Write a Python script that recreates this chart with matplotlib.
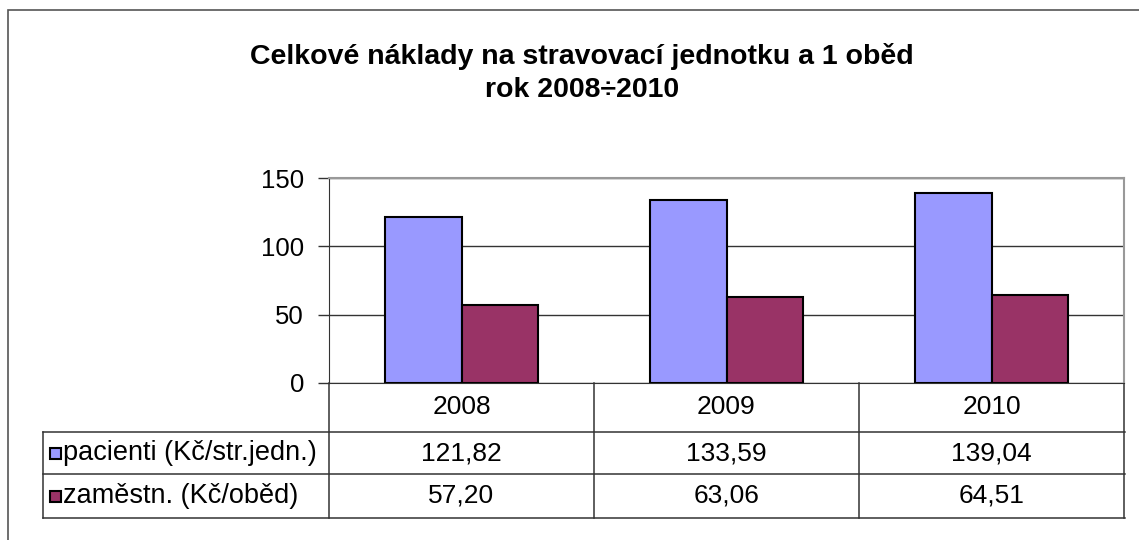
import matplotlib
matplotlib.use("Agg")
import matplotlib.pyplot as plt
from matplotlib.patches import Rectangle
from matplotlib.transforms import blended_transform_factory

plt.rcParams['font.family'] = ['Liberation Sans', 'DejaVu Sans']

years = ['2008', '2009', '2010']
pacienti = [121.82, 133.59, 139.04]
zamestn = [57.20, 63.06, 64.51]
series_labels = ['pacienti (Kč/str.jedn.)', 'zaměstn. (Kč/oběd)']
pacienti_txt = ['121,82', '133,59', '139,04']
zamestn_txt = ['57,20', '63,06', '64,51']
yticks = [0, 50, 100, 150]
title = 'Celkové náklady na stravovací jednotku a 1 oběd\nrok 2008÷2010'

c_blue = '#9999FF'
c_maroon = '#993366'

W, H = 1139, 540
fig = plt.figure(figsize=(W / 100, H / 100), dpi=100)

def fx(px):
    return px / W

def fy(py):
    return 1 - py / H

FS = 19

# outer chart border (left + top visible)
fig.patches.append(Rectangle((fx(8), fy(560)), fx(1160) - fx(8), fy(10) - fy(560),
                             transform=fig.transFigure, fill=False,
                             edgecolor='#555555', linewidth=1.2))

L, R, T, B = 329, 1124, 178, 383
ax = fig.add_axes([fx(L), fy(B), fx(R) - fx(L), fy(T) - fy(B)])

x = list(range(len(years)))
bw = 0.29
ax.bar([i - bw / 2 for i in x], pacienti, width=bw, color=c_blue,
       edgecolor='black', linewidth=1.5, zorder=3)
ax.bar([i + bw / 2 for i in x], zamestn, width=bw, color=c_maroon,
       edgecolor='black', linewidth=1.5, zorder=3)

ax.set_xlim(-0.5, len(years) - 0.5)
ax.set_ylim(0, 150)
ax.set_yticks(yticks)
ax.set_yticklabels([str(v) for v in yticks], fontsize=18.5)
ax.tick_params(axis='y', length=8, width=1, color='#333333', pad=10)
ax.set_xticks([])
ax.yaxis.grid(True, color='#333333', linewidth=1, zorder=0)
for s in ['top', 'right']:
    ax.spines[s].set_color('#999999')
    ax.spines[s].set_linewidth(1.5)
ax.spines['left'].set_color('#333333')
ax.spines['bottom'].set_color('#333333')

fig.text(fx(582), fy(73), title, ha='center', va='center', fontsize=20.5,
         fontweight='bold', linespacing=1.35, multialignment='center')

# data table below axes
bt = blended_transform_factory(ax.transData, fig.transFigure)
ft = fig.transFigure
row_y = [383, 432, 474, 518]
line_kw = dict(color='#333333', linewidth=1.1, clip_on=False)
edges = [i - 0.5 for i in range(len(years) + 1)]
for e in edges:
    ax.plot([e, e], [fy(row_y[0]), fy(row_y[-1])], transform=bt, **line_kw)
tab_left = 43
for yy in row_y[1:]:
    fig.add_artist(plt.Line2D([fx(tab_left), fx(R + 1)], [fy(yy), fy(yy)],
                              transform=ft, color='#333333', linewidth=1.1))
fig.add_artist(plt.Line2D([fx(tab_left), fx(tab_left)], [fy(row_y[1]), fy(row_y[-1])],
                          transform=ft, color='#333333', linewidth=1.1))

def mid(a, b):
    return fy((a + b) / 2)

for i, yr in enumerate(years):
    ax.text(i, mid(row_y[0], row_y[1]), yr, transform=bt, ha='center',
            va='center', fontsize=FS)
    ax.text(i, mid(row_y[1], row_y[2]), pacienti_txt[i], transform=bt,
            ha='center', va='center', fontsize=FS)
    ax.text(i, mid(row_y[2], row_y[3]), zamestn_txt[i], transform=bt,
            ha='center', va='center', fontsize=FS)

for k, (lab, col) in enumerate(zip(series_labels, [c_blue, c_maroon])):
    y0, y1 = row_y[k + 1], row_y[k + 2]
    cy = (y0 + y1) / 2
    fig.patches.append(Rectangle((fx(50), fy(cy + 5.5)), fx(11), fy(cy - 5.5) - fy(cy + 5.5),
                                 transform=ft, facecolor=col, edgecolor='black',
                                 linewidth=1.5))
    fig.text(fx(63), fy(cy), lab, ha='left', va='center', fontsize=19.5)

fig.savefig('out.png', dpi=100)
